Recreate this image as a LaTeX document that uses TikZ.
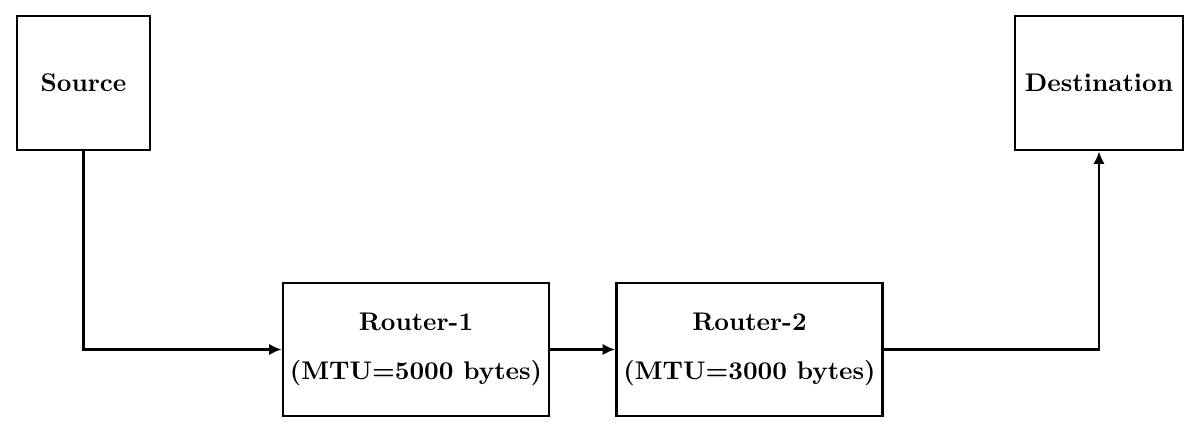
\documentclass[tikz,border=0pt]{standalone}
\usetikzlibrary{arrows.meta}
\begin{document}
\begin{tikzpicture}[x=0.4pt,y=-0.4pt,
  box/.style={draw,line width=1.15pt,rectangle,inner sep=0pt,align=center,
    font=\fontsize{10.2}{12}\selectfont\bfseries},
  conn/.style={line width=1pt,-{Latex[length=5pt,width=4.6pt]}}]
\useasboundingbox (0,0) rectangle (1200,433);
\node[box,minimum width=53.2pt,minimum height=53.6pt] (src) at (83.5,83) {Source};
\node[box,minimum width=67.2pt,minimum height=53.6pt] (dst) at (1099,83) {Destination};
\node[box,minimum width=106.4pt,minimum height=53.2pt] (r1) at (416,349.5) {Router-1\\[7.4pt](MTU=5000 bytes)};
\node[box,minimum width=106.4pt,minimum height=53.2pt] (r2) at (749.5,349.5) {Router-2\\[7.4pt](MTU=3000 bytes)};
\draw[conn] (src.south) |- (r1.west);
\draw[conn] (r1.east) -- (r2.west);
\draw[conn] (r2.east) -| (dst.south);
\end{tikzpicture}
\end{document}
